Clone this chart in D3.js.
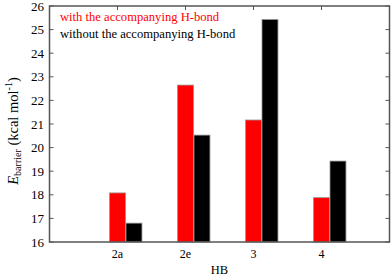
<!DOCTYPE html>
<html>
<head>
<meta charset="utf-8">
<title>Ebarrier</title>
<script src="https://cdn.jsdelivr.net/npm/d3@7"></script>
<style>
  body { margin: 0; background: #fff; }
</style>
</head>
<body>
<script>
// data
var categories = ["2a", "2e", "3", "4"];
var withHB = [18.08, 22.65, 21.17, 17.88];
var withoutHB = [16.8, 20.53, 25.43, 19.43];
var yTicks = [16, 17, 18, 19, 20, 21, 22, 23, 24, 25, 26];
var seriesNames = ["with the accompanying H-bond", "without the accompanying H-bond"];

var W = 392, H = 276;
var m = {left: 49.5, right: 389.5, top: 6, bottom: 242};
var FONT = "Liberation Serif";

var svg = d3.select("body").append("svg")
  .attr("width", W).attr("height", H);

// scales
var x = d3.scaleLinear().domain([-1, 4]).range([m.left, m.right]);
var y = d3.scaleLinear().domain([16, 26]).range([m.bottom, m.top]);
var bw = 0.235; // bar width in category units

// ticks (inward, mirrored)
var ticks = svg.append("g").attr("stroke", "#555").attr("stroke-width", 1);
yTicks.forEach(function(t){
  ticks.append("line").attr("x1", m.left).attr("x2", m.left + 4)
    .attr("y1", y(t)).attr("y2", y(t));
  ticks.append("line").attr("x1", m.right - 4).attr("x2", m.right)
    .attr("y1", y(t)).attr("y2", y(t));
});
categories.forEach(function(c, i){
  ticks.append("line").attr("x1", x(i)).attr("x2", x(i))
    .attr("y1", m.top).attr("y2", m.top + 4);
});

// bars
var bars = svg.append("g");
bars.selectAll("rect.w").data(withHB).enter().append("rect")
  .attr("class", "w")
  .attr("x", function(d, i){ return x(i - bw / 2); })
  .attr("width", function(){ return x(bw) - x(0); })
  .attr("y", function(d){ return y(d); })
  .attr("height", function(d){ return y(16) - y(d); })
  .attr("fill", "#ff0000").attr("stroke", "#999").attr("stroke-width", 0.8);
bars.selectAll("rect.wo").data(withoutHB).enter().append("rect")
  .attr("class", "wo")
  .attr("x", function(d, i){ return x(i + bw / 2) + 0.5; })
  .attr("width", function(){ return x(bw) - x(0); })
  .attr("y", function(d){ return y(d); })
  .attr("height", function(d){ return y(16) - y(d); })
  .attr("fill", "#000").attr("stroke", "#999").attr("stroke-width", 0.8);

// frame
svg.append("rect")
  .attr("x", m.left).attr("y", m.top)
  .attr("width", m.right - m.left).attr("height", m.bottom - m.top)
  .attr("fill", "none").attr("stroke", "#555").attr("stroke-width", 1.5);

// tick labels
svg.append("g").selectAll("text").data(yTicks).enter().append("text")
  .attr("font-family", FONT)
  .attr("x", 44).attr("y", function(d){ return y(d) + 4.5; })
  .attr("text-anchor", "end").attr("font-size", 13)
  .text(function(d){ return d; });
svg.append("g").selectAll("text").data(categories).enter().append("text")
  .attr("font-family", FONT)
  .attr("x", function(d, i){ return x(i); }).attr("y", 258)
  .attr("text-anchor", "middle").attr("font-size", 12)
  .text(function(d){ return d; });

// axis titles
svg.append("text").attr("font-family", FONT)
  .attr("x", (m.left + m.right) / 2).attr("y", 274)
  .attr("text-anchor", "middle").attr("font-size", 12.5).text("HB");

var yl = svg.append("text").attr("font-family", FONT)
  .attr("transform", "translate(17.5,131) rotate(-90)")
  .attr("text-anchor", "middle").attr("font-size", 14.5);
yl.append("tspan").attr("font-style", "italic").text("E");
yl.append("tspan").attr("font-size", 10).attr("dy", 3).text("barrier");
yl.append("tspan").attr("dy", -3).text(" (kcal mol");
yl.append("tspan").attr("font-size", 10).attr("dy", -6).text("-1");
yl.append("tspan").attr("dy", 6).text(")");

// legend
svg.append("text").attr("font-family", FONT)
  .attr("x", 60).attr("y", 21).attr("font-size", 12.6)
  .attr("fill", "#ff0000").text(seriesNames[0]);
svg.append("text").attr("font-family", FONT)
  .attr("x", 60).attr("y", 38).attr("font-size", 12.6)
  .attr("fill", "#000").text(seriesNames[1]);
</script>
</body>
</html>
